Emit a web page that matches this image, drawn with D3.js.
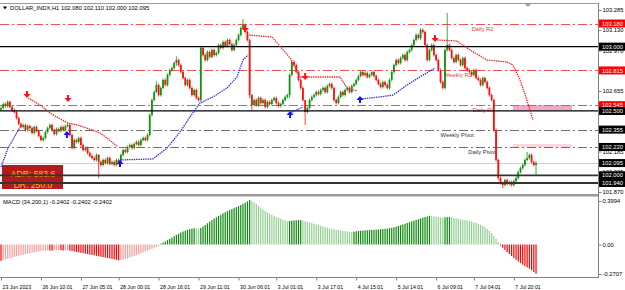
<!DOCTYPE html>
<html>
<head>
<meta charset="utf-8">
<script src="https://cdn.jsdelivr.net/npm/d3@7"></script>
<style>
  body { margin: 0; background: #fff; }
  svg { display: block; font-family: "Liberation Sans", Arial, sans-serif; }
</style>
</head>
<body>
<svg id="chart" width="625" height="290"></svg>
<script>
// ---- data ----
const symbolInfo = "DOLLAR_INDX,H1 102.080 102.110 102.000 102.095";
const macdInfo = "MACD (34,200,1) -0.2402 -0.2402 -0.2402";

const firstOpen = 102.510;
// hourly closes, one per bar
const closes = [
  102.523,102.554,102.539,102.570,102.531,102.507,102.492,
  102.445,102.399,102.375,
  102.391,102.352,102.383,102.367,102.329,102.375,102.344,102.305,102.274,102.290,
  102.336,102.367,102.391,102.352,102.321,102.360,102.344,102.375,102.352,102.383,102.391,
  102.313,102.212,102.274,102.259,102.290,
  102.235,102.196,102.212,102.173,102.150,
  102.134,102.119,102.158,102.103,
  102.080,102.119,102.095,102.134,102.088,102.103,102.080,102.119,102.095,
  102.158,102.196,102.181,102.220,102.235,102.212,102.243,
  102.259,102.235,102.274,102.290,102.274,102.313,
  102.469,102.585,102.647,102.702,
  102.624,102.679,102.741,102.702,102.780,102.818,
  102.834,102.873,102.896,102.857,102.803,102.756,
  102.702,102.741,102.679,102.624,102.663,102.601,
  102.585,102.990,
  102.935,102.896,102.958,102.920,102.974,102.935,102.951,
  103.013,102.990,103.036,103.005,103.052,103.021,102.974,
  103.013,103.052,103.091,103.145,103.168,
  103.114,103.052,102.624,102.546,
  102.585,102.546,102.601,102.562,102.585,102.531,102.570,102.554,102.585,102.601,102.562,102.539,102.554,102.585,102.609,102.624,
  102.780,102.881,102.857,102.803,102.741,102.679,102.585,
  102.492,102.523,102.585,
  102.609,102.624,102.647,102.632,102.663,102.679,102.647,102.694,102.710,102.679,102.585,
  102.562,102.609,102.647,102.624,102.663,102.679,102.647,102.694,
  102.710,102.741,102.772,102.803,102.780,102.795,102.764,102.780,102.803,
  102.772,102.741,102.710,102.686,102.725,102.702,102.679,
  102.741,102.803,102.857,102.896,102.873,
  102.912,102.935,102.896,102.958,102.974,103.013,
  103.052,103.091,103.067,103.130,103.114,
  103.013,102.896,102.974,103.013,102.935,
  102.896,102.818,102.725,102.679,
  102.974,103.013,
  102.974,102.912,102.881,102.935,
  102.896,102.857,102.912,102.834,102.818,102.803,
  102.780,102.818,102.756,102.741,102.702,102.756,
  102.725,102.679,102.624,102.585,
  102.352,102.119,101.979,
  101.940,101.924,101.963,101.932,101.948,101.924,101.955,101.979,
  102.025,102.056,102.080,102.119,102.134,102.158,
  102.103,102.080,102.095
];
// [bar, high, low] for the bars with visible long shadows
const longWicks = [
  [44, 102.165, 101.979], [70, 102.730, 102.640], [79, 102.925, 102.850],
  [90, 103.000, 102.570], [109, 103.215, 103.130], [112, 103.060, 102.600],
  [113, 102.630, 102.507], [130, 102.790, 102.600], [137, 102.540, 102.391],
  [189, 103.145, 103.050], [201, 103.262, 102.960], [224, 102.130, 101.960],
  [226, 101.950, 101.901], [237, 102.181, 102.110], [241, 102.110, 102.000]
];

const macd = [
  -0.150,-0.144,-0.138,-0.132,-0.126,-0.120,-0.114,-0.108,-0.103,-0.098,-0.093,-0.088,-0.084,-0.080,-0.076,-0.072,-0.068,-0.065,-0.062,
  -0.058,-0.055,-0.053,-0.055,-0.057,-0.054,-0.052,-0.050,-0.052,-0.055,-0.053,-0.051,
  -0.056,-0.060,-0.064,-0.068,-0.072,-0.076,-0.080,-0.084,-0.088,-0.092,-0.096,-0.100,-0.104,-0.108,-0.112,-0.116,-0.120,-0.124,-0.128,-0.132,-0.136,-0.140,-0.145,
  -0.142,-0.138,-0.133,-0.127,-0.120,-0.112,-0.104,-0.096,-0.088,-0.080,-0.072,-0.064,-0.056,-0.048,-0.040,-0.032,-0.022,-0.012,
  0.008,0.018,0.028,0.040,0.052,0.064,0.076,0.088,0.099,0.110,0.120,0.128,0.135,0.141,0.146,0.150,
  0.148,0.146,
  0.152,0.165,0.180,0.195,0.210,0.224,0.238,0.250,0.262,0.274,0.285,0.296,0.306,0.316,0.325,0.334,0.343,0.352,0.362,0.372,0.384,0.396,0.408,
  0.398,0.385,0.370,0.354,0.338,0.322,0.308,0.295,0.283,0.272,0.262,0.253,0.245,0.237,0.229,0.221,0.213,
  0.216,0.219,0.221,0.222,0.223,0.224,
  0.220,0.214,0.208,0.202,0.196,0.190,0.184,0.178,0.172,0.166,0.160,0.154,0.149,0.144,0.140,0.136,0.132,0.128,0.125,0.122,0.119,0.117,0.115,
  0.118,0.121,0.124,0.126,0.128,0.130,0.131,0.133,0.134,0.135,0.137,0.138,0.140,0.142,0.144,0.146,0.149,
  0.153,0.158,0.164,0.170,0.177,0.184,0.191,0.198,0.205,0.212,0.219,0.226,0.233,0.240,0.246,0.252,0.258,0.264,
  0.262,0.259,0.256,0.253,0.250,0.247,
  0.249,0.251,0.252,
  0.248,0.244,0.240,0.236,0.232,0.228,0.224,0.220,0.215,0.210,0.204,0.197,0.189,0.180,0.170,0.158,0.143,0.125,0.104,0.080,0.052,0.022,
  -0.010,-0.030,-0.050,-0.070,-0.088,-0.106,-0.123,-0.140,-0.156,-0.171,-0.185,-0.198,-0.210,-0.221,-0.236,-0.252,-0.268
];

// trailing stop lines: [bar, price] knots
const blueStops = [
  [[0, 102.064], [3.2, 102.212], [8.6, 102.375]],
  [[53.6, 102.119], [68.5, 102.127], [74.8, 102.212], [80.6, 102.336], [85.1, 102.453], [89.6, 102.562],
   [95.5, 102.609], [101.8, 102.679], [106.3, 102.764], [109, 102.896], [111.3, 102.935]],
  [[130.2, 102.484], [136, 102.531]],
  [[161.7, 102.593], [170.7, 102.609], [176.6, 102.624], [182.9, 102.702], [188.7, 102.764], [195.5, 102.834]]
];
const redStops = [
  [[12.2, 102.601], [17.6, 102.546], [22.1, 102.484], [27.5, 102.430], [30.2, 102.406], [34.2, 102.391],
   [38.7, 102.367], [44.6, 102.329], [47.7, 102.290], [50.5, 102.251], [52.7, 102.220]],
  [[110.8, 103.091], [122.1, 103.075], [130.2, 102.912], [134.7, 102.764], [137.8, 102.764], [152.7, 102.764],
   [155.9, 102.679], [160.4, 102.655]],
  [[196.4, 103.052], [205.4, 103.044], [211.3, 102.974], [218.9, 102.896], [227.9, 102.881], [230.6, 102.857],
   [233.8, 102.741], [236.9, 102.585], [239.6, 102.430]]
];
const sellArrows = [[11.7, 102.616], [30.2, 102.585], [110, 103.13], [137, 102.756], [195.5, 103.052]];
const buyArrows = [[29.7, 102.329], [53.6, 102.103], [130.2, 102.484], [161.7, 102.601]];

const pivotNames = ["Daily R2", "Weekly R1", "Daily R1", "Weekly Pivot", "Daily Pivot"];
const pivotPrices = [103.180, 102.815, 102.545, 102.355, 102.220];
const srLevels = [103.000, 102.500];
const boxLevels = [102.000, 101.940];
const lastPrice = 102.095;
const zones = [[102.546, 102.507], [102.243, 102.220]];

// axis ticks that are not covered by a price tag
const priceTicks = [103.285, 103.130, 102.970, 102.655, 102.185, 102.025, 101.870];
const macdTicks = [0.3994, 0, -0.2707];
const macdTickLabels = ["0.3994", "0.00", "-0.2707"];
const timeTickBars = [0, 18, 36, 53, 71, 89, 107, 124, 142, 160, 178, 196, 213, 231];
const timeLabels = ["23 Jun 2023", "26 Jun 10:01", "27 Jun 05:01", "28 Jun 00:01", "28 Jun 16:01",
  "29 Jun 11:01", "30 Jun 06:01", "3 Jul 01:01", "3 Jul 17:01", "4 Jul 15:01", "5 Jul 14:01",
  "6 Jul 09:01", "7 Jul 04:01", "7 Jul 20:01"];

// ---- drawing ----
let svg = d3.select("#chart");
let axisX = 598;
let fs = 5.8;

let x = d3.scaleLinear().domain([0, 241]).range([1, 1 + 2.22 * 241]);
let y = d3.scaleLinear().domain([101.870, 103.285]).range([192, 10]);
let ym = d3.scaleLinear().domain([-0.2707, 0.3994]).range([274, 201]);

svg.append("rect").attr("width", 625).attr("height", 290).attr("fill", "#fff");

svg.append("defs").append("clipPath").attr("id", "clipMain")
  .append("rect").attr("x", 0).attr("y", 4).attr("width", axisX).attr("height", 190);

let plot = svg.append("g").attr("clip-path", "url(#clipMain)");

// pink zones
plot.selectAll("rect.zone")
  .data(zones)
  .join("rect")
    .attr("x", x(230.6))
    .attr("width", x(257.2) - x(230.6))
    .attr("y", d => y(d[0]))
    .attr("height", d => y(d[1]) - y(d[0]))
    .attr("fill", (d, i) => i == 0 ? "#f4a6c8" : "#fbd6dc");

// current price line
plot.append("line")
  .attr("x1", 0).attr("x2", axisX)
  .attr("y1", Math.round(y(lastPrice)) + 0.5).attr("y2", Math.round(y(lastPrice)) + 0.5)
  .attr("stroke", "#d0d0d0");

// ADR box
let adr = plot.append("g");
adr.append("rect").attr("x", 2).attr("y", 165).attr("width", 61).attr("height", 24).attr("fill", "#b01c1c");
adr.append("text").attr("x", 33).attr("y", 177).attr("text-anchor", "middle")
  .attr("font-size", 8.6).attr("fill", "#f3c21c").text("ADR: 583.6");
adr.append("text").attr("x", 33).attr("y", 187.5).attr("text-anchor", "middle")
  .attr("font-size", 8.6).attr("fill", "#f3c21c").text("DR: 250.0");

// pivot lines, dash-dot
let isDaily = n => n.indexOf("Pivot") < 0;
plot.selectAll("line.pivot")
  .data(pivotPrices)
  .join("line")
    .attr("x1", 0).attr("x2", axisX)
    .attr("y1", d => Math.round(y(d)) + 0.5).attr("y2", d => Math.round(y(d)) + 0.5)
    .attr("stroke", (d, i) => isDaily(pivotNames[i]) ? "#f05050" : "#707070")
    .attr("stroke-width", 1)
    .attr("stroke-dasharray", "9,3,2,3");

let labelBar = [212, 199.5, 212.5, 198, 210.5];
plot.selectAll("text.pivot")
  .data(pivotPrices)
  .join("text")
    .attr("x", (d, i) => x(labelBar[i]))
    .attr("y", d => y(d) + 7)
    .attr("font-size", fs)
    .attr("fill", (d, i) => isDaily(pivotNames[i]) ? "#e84040" : "#333")
    .text((d, i) => pivotNames[i]);

// candles
let wickMap = new Map(longWicks.map(d => [d[0], d]));
let bars = closes.map((c, i) => {
  let o = i == 0 ? firstOpen : closes[i - 1];
  let w = wickMap.get(i);
  return {i: i, o: o, c: c, hi: w ? w[1] : null, lo: w ? w[2] : null};
});

let cg = plot.append("g");
cg.selectAll("line")
  .data(bars)
  .join("line")
    .attr("x1", d => x(d.i)).attr("x2", d => x(d.i))
    .attr("y1", d => d.hi != null ? y(d.hi) : y(Math.max(d.o, d.c)) - 1.5)
    .attr("y2", d => d.lo != null ? y(d.lo) : y(Math.min(d.o, d.c)) + 1.5)
    .attr("stroke", d => d.c >= d.o ? "#129412" : "#ff1010")
    .attr("stroke-width", 0.8);
cg.selectAll("rect")
  .data(bars)
  .join("rect")
    .attr("x", d => x(d.i) - 0.9)
    .attr("width", 1.8)
    .attr("y", d => y(Math.max(d.o, d.c)))
    .attr("height", d => Math.max(0.8, Math.abs(y(d.o) - y(d.c))))
    .attr("fill", d => d.c >= d.o ? "#129412" : "#ff1010");

// support / resistance lines
plot.selectAll("line.sr")
  .data(srLevels)
  .join("line")
    .attr("x1", 0).attr("x2", axisX)
    .attr("y1", d => y(d)).attr("y2", d => y(d))
    .attr("stroke", "#000").attr("stroke-width", 1.3);
plot.selectAll("line.box")
  .data(boxLevels)
  .join("line")
    .attr("x1", 0).attr("x2", axisX)
    .attr("y1", d => y(d)).attr("y2", d => y(d))
    .attr("stroke", "#333").attr("stroke-width", 1.8);

// trailing stops
let stopLine = d3.line().x(d => x(d[0])).y(d => y(d[1]));
plot.selectAll("path.blue")
  .data(blueStops)
  .join("path")
    .attr("d", stopLine)
    .attr("fill", "none").attr("stroke", "#2a2af5").attr("stroke-width", 1.3)
    .attr("stroke-dasharray", "1.4,0.9");
plot.selectAll("path.red")
  .data(redStops)
  .join("path")
    .attr("d", stopLine)
    .attr("fill", "none").attr("stroke", "#ff2222").attr("stroke-width", 1.3)
    .attr("stroke-dasharray", "1.4,0.9");

let arrowDown = (px, py) => `M${px - 1},${py - 5}h2v3h2.5l-3.5,4l-3.5,-4h2.5z`;
let arrowUp = (px, py) => `M${px - 1},${py + 5}h2v-3h2.5l-3.5,-4l-3.5,4h2.5z`;
plot.selectAll("path.sell")
  .data(sellArrows)
  .join("path")
    .attr("d", d => arrowDown(x(d[0]), y(d[1])))
    .attr("fill", "#ff1010");
plot.selectAll("path.buy")
  .data(buyArrows)
  .join("path")
    .attr("d", d => arrowUp(x(d[0]), y(d[1])))
    .attr("fill", "#1010ff");

// frame
svg.append("line").attr("x1", 0).attr("x2", axisX).attr("y1", 3.5).attr("y2", 3.5).attr("stroke", "#9a9a9a");
svg.append("rect").attr("x", 0).attr("y", 194).attr("width", axisX).attr("height", 2.5).attr("fill", "#9a9a9a");
svg.append("line").attr("x1", 0).attr("x2", axisX + 0.5).attr("y1", 277.5).attr("y2", 277.5).attr("stroke", "#808080");
svg.append("line").attr("x1", axisX + 0.5).attr("x2", axisX + 0.5).attr("y1", 3).attr("y2", 278).attr("stroke", "#808080");
svg.append("path").attr("d", `M${x(236)},4l3,3l3,-3z`).attr("fill", "#a0a0a0");

// header texts
svg.append("path").attr("d", "M3,6.5h4l-2,3z").attr("fill", "#000");
svg.append("text").attr("x", 10).attr("y", 10).attr("font-size", fs).attr("fill", "#000").text(symbolInfo);
svg.append("text").attr("x", 3).attr("y", 203.5).attr("font-size", fs).attr("fill", "#000").text(macdInfo);

// price axis
let yAxis = d3.axisRight(y).tickValues(priceTicks).tickSize(3).tickFormat(d3.format(".3f"));
let yg = svg.append("g").attr("transform", `translate(${axisX + 0.5},0)`).call(yAxis);
yg.select(".domain").remove();
yg.selectAll("text").attr("x", 4).attr("font-size", fs).attr("font-family", "Liberation Sans").attr("fill", "#000");
yg.selectAll("line").attr("stroke", "#808080");

// price tags on the axis
let tags = pivotPrices.map((p, i) => [p, isDaily(pivotNames[i]) ? "#ff0000" : "#000"])
  .concat(srLevels.map(p => [p, "#000"]))
  .concat(boxLevels.map(p => [p, "#000"]))
  .concat([[lastPrice, "#000"]]);
let tg = svg.append("g");
tg.selectAll("rect")
  .data(tags)
  .join("rect")
    .attr("x", axisX + 1).attr("width", 26)
    .attr("y", d => y(d[0]) - 4).attr("height", 8)
    .attr("fill", d => d[1]);
tg.selectAll("text")
  .data(tags)
  .join("text")
    .attr("x", axisX + 4).attr("y", d => y(d[0]) + 2.1)
    .attr("font-size", fs).attr("fill", "#fff")
    .text(d => d3.format(".3f")(d[0]));

// MACD histogram
let mcol = (v, i) => {
  let prev = i ? macd[i - 1] : v;
  if (v >= 0) return v >= prev ? "#0a880a" : "#92cf92";
  return v <= prev ? "#ff0000" : "#ff9c9c";
};
svg.append("g").selectAll("rect")
  .data(macd)
  .join("rect")
    .attr("x", (d, i) => x(i) - 0.6)
    .attr("width", 1.2)
    .attr("y", d => Math.min(ym(0), ym(d)))
    .attr("height", d => Math.abs(ym(d) - ym(0)))
    .attr("fill", mcol);

let mAxis = d3.axisRight(ym).tickValues(macdTicks).tickSize(3).tickFormat((d, i) => macdTickLabels[i]);
let mg = svg.append("g").attr("transform", `translate(${axisX + 0.5},0)`).call(mAxis);
mg.select(".domain").remove();
mg.selectAll("text").attr("x", 4).attr("font-size", fs).attr("font-family", "Liberation Sans").attr("fill", "#000");
mg.selectAll("line").attr("stroke", "#808080");

// time axis
let tAxis = d3.axisBottom(x).tickValues(timeTickBars).tickSize(3).tickFormat((d, i) => timeLabels[i]);
let tgx = svg.append("g").attr("transform", "translate(0,277.5)").call(tAxis);
tgx.select(".domain").remove();
tgx.selectAll("text").attr("text-anchor", "start").attr("x", 1).attr("y", 8)
  .attr("font-size", 5.2).attr("font-family", "Liberation Sans").attr("fill", "#000");
tgx.selectAll("line").attr("stroke", "#808080");
</script>
</body>
</html>
